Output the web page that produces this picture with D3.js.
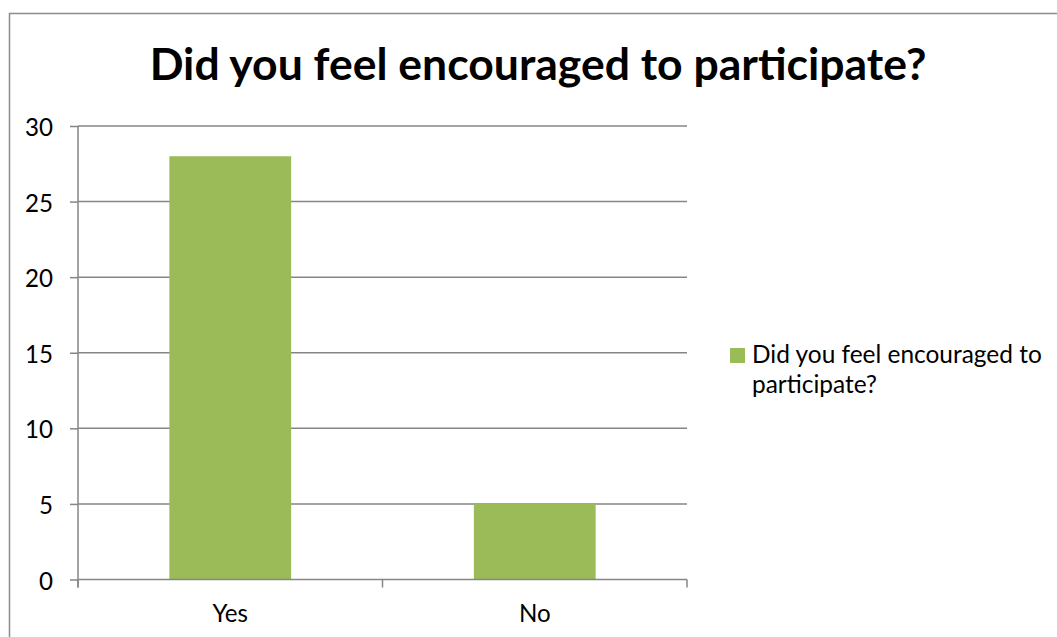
<!DOCTYPE html>
<html>
<head>
<meta charset="utf-8">
<script src="https://cdn.jsdelivr.net/npm/d3@7"></script>
<style>
  html, body { margin: 0; padding: 0; background: #fff; }
  svg { display: block; }
  text { font-family: Lato, "Open Sans", sans-serif; fill: #000; }
</style>
</head>
<body>
<svg id="chart" width="1057" height="637"></svg>
<script>
// Survey answers
const title = "Did you feel encouraged to participate?";
const seriesName = "Did you feel encouraged to participate?";
const categories = ["Yes", "No"];
const counts = [28, 5];
const yTicks = [0, 5, 10, 15, 20, 25, 30];
const legendLines = ["Did you feel encouraged to", "participate?"];

const barColor = "#9BBB59";
const gridColor = "#868686";

const svg = d3.select("#chart");

// chart frame
svg.append("rect")
  .attr("x", 9.5).attr("y", 13.5)
  .attr("width", 1100).attr("height", 700)
  .attr("fill", "none").attr("stroke", "#8c8c8c").attr("stroke-width", 1.5);

const plot = { left: 78, right: 687, top: 126, bottom: 579.5 };

const x = d3.scaleBand()
  .domain(categories)
  .range([plot.left, plot.right])
  .paddingInner(0.6)
  .paddingOuter(0.3);

const xCat = d3.scaleBand()
  .domain(categories)
  .range([plot.left, plot.right])
  .padding(0);

const y = d3.scaleLinear()
  .domain([0, 30])
  .range([plot.bottom, plot.top]);

// size a font so a text spans the given width
function fitSize(sel, target, start) {
  sel.style("font-size", start + "px");
  const w = sel.node().getComputedTextLength();
  const s = start * target / w;
  sel.style("font-size", s + "px");
  return s;
}

// gridlines
svg.append("g")
  .selectAll("line")
  .data(yTicks.filter(d => d > 0))
  .join("line")
  .attr("x1", plot.left).attr("x2", plot.right)
  .attr("y1", d => y(d)).attr("y2", d => y(d))
  .attr("stroke", gridColor).attr("stroke-width", 1.5);

// bars
svg.append("g")
  .selectAll("rect")
  .data(categories.map((c, i) => ({ c, v: counts[i] })))
  .join("rect")
  .attr("x", d => x(d.c))
  .attr("width", x.bandwidth())
  .attr("y", d => y(d.v))
  .attr("height", d => y(0) - y(d.v))
  .attr("fill", barColor);

// y axis
const yAxis = svg.append("g")
  .attr("transform", `translate(${plot.left},0)`)
  .call(d3.axisLeft(y).tickValues(yTicks).tickSize(8).tickPadding(17).tickFormat(d3.format("d")));
yAxis.select(".domain").attr("stroke", gridColor).attr("stroke-width", 1.5).attr("d", `M0,${plot.top}V${plot.bottom + 8}`);
yAxis.selectAll(".tick line").attr("stroke", gridColor).attr("stroke-width", 1.5);
const tickText = yAxis.selectAll(".tick text").attr("dy", null).attr("dominant-baseline", "central");
const tickSize = fitSize(yAxis.selectAll(".tick text").filter(d => d === 30), 28, 20);
tickText.style("font-size", tickSize + "px").style("font-family", "Lato, 'Open Sans', sans-serif");

// x axis line with category boundary ticks
const xAxis = svg.append("g");
xAxis.append("line")
  .attr("x1", plot.left).attr("x2", plot.right)
  .attr("y1", plot.bottom).attr("y2", plot.bottom)
  .attr("stroke", gridColor).attr("stroke-width", 1.5);
const bounds = categories.map(c => xCat(c)).concat([xCat(categories[categories.length - 1]) + xCat.bandwidth()]);
xAxis.selectAll("line.b")
  .data(bounds)
  .join("line")
  .attr("class", "b")
  .attr("x1", d => d).attr("x2", d => d)
  .attr("y1", plot.bottom).attr("y2", plot.bottom + 8)
  .attr("stroke", gridColor).attr("stroke-width", 1.5);
xAxis.selectAll("text")
  .data(categories)
  .join("text")
  .attr("x", d => xCat(d) + xCat.bandwidth() / 2)
  .attr("y", 622)
  .attr("text-anchor", "middle")
  .style("font-size", tickSize + "px")
  .text(d => d);

// title
const t = svg.append("text")
  .attr("x", 538).attr("y", 80)
  .attr("text-anchor", "middle")
  .style("font-weight", "bold")
  .text(title);
fitSize(t, 777, 40);

// legend
const legend = svg.append("g").attr("aria-label", seriesName);
legend.append("rect")
  .attr("x", 730).attr("y", 348)
  .attr("width", 15).attr("height", 15)
  .attr("fill", barColor);
const l1 = legend.append("text").attr("x", 752).attr("y", 363).text(legendLines[0]);
const legSize = fitSize(l1, 290, 20);
legend.append("text").attr("x", 752).attr("y", 393)
  .style("font-size", legSize + "px")
  .text(legendLines[1]);
</script>
</body>
</html>
